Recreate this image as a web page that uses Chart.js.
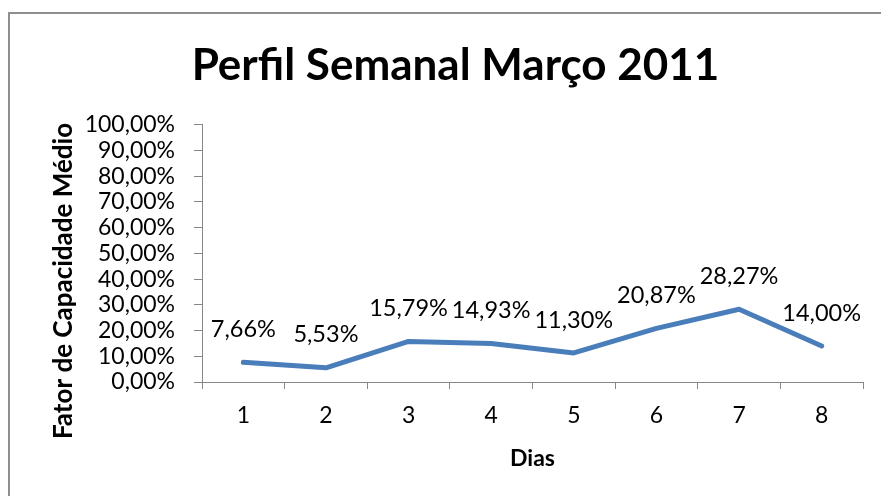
<!DOCTYPE html>
<html>
<head>
<meta charset="utf-8">
<script src="https://cdn.jsdelivr.net/npm/chart.js@4.4.1/dist/chart.umd.min.js"></script>
<style>
    html, body { margin: 0; padding: 0; background: #fff; overflow: hidden; }
    #wrap { position: relative; width: 881px; height: 496px; }
    #frame {
        position: absolute; left: 8px; top: 12px; width: 900px; height: 520px;
        border: 2px solid #8e8e8e; box-sizing: border-box;
    }
    canvas { position: absolute; left: 0; top: 0; }
</style>
</head>
<body>
<div id="wrap">
    <div id="frame"></div>
    <canvas id="chart" width="881" height="496"></canvas>
</div>
<script>
// ===========================
// DATA
// ===========================

const days = ["1", "2", "3", "4", "5", "6", "7", "8"];
const capacityFactor = [7.66, 5.53, 15.79, 14.93, 11.30, 20.87, 28.27, 14.00];

const chartTitle = "Perfil Semanal Março 2011";
const xTitle = "Dias";
const yTitle = "Fator de Capacidade Médio";

// ===========================
// HELPER
// ===========================

function formatPercent(value) {
    return Number(value).toFixed(2).replace(".", ",") + "%";
}

const axisColor = "#868686";
const fontName = "Lato, 'Noto Sans', sans-serif";

// rótulos de dados acima de cada ponto + título do eixo Y
const extraText = {
    id: "extraText",
    afterDatasetsDraw(chart) {
        const ctx = chart.ctx;
        const meta = chart.getDatasetMeta(0);
        ctx.save();
        ctx.font = "23.5px " + fontName;
        ctx.fillStyle = "#000";
        ctx.textAlign = "center";
        ctx.textBaseline = "middle";
        meta.data.forEach((pt, i) => {
            ctx.fillText(formatPercent(capacityFactor[i]), pt.x, pt.y - 33);
        });

        // título vertical, um pouco abaixo do centro (como no Excel)
        const area = chart.chartArea;
        ctx.translate(64, area.bottom - 101);
        ctx.rotate(-Math.PI / 2);
        ctx.font = "bold 26px " + fontName;
        ctx.fillText(yTitle, 0, 0);
        ctx.restore();
    }
};

// ===========================
// CHART
// ===========================

const ctx = document.getElementById("chart").getContext("2d");

new Chart(ctx, {
    type: "line",
    data: {
        labels: days,
        datasets: [{
            data: capacityFactor,
            borderColor: "#4a7ebb",
            borderWidth: 5,
            borderCapStyle: "round",
            borderJoinStyle: "round",
            pointRadius: 0,
            tension: 0,
            fill: false
        }]
    },
    options: {
        responsive: false,
        animation: false,
        layout: {
            padding: { top: 39, left: 48, right: 18, bottom: 24 }
        },
        plugins: {
            legend: { display: false },
            tooltip: { enabled: false },
            title: {
                display: true,
                text: chartTitle,
                color: "#000",
                font: { family: fontName, size: 44, weight: "bold", lineHeight: 1.2 },
                padding: { top: 0, bottom: 33 }
            }
        },
        scales: {
            x: {
                offset: true,
                grid: {
                    offset: true,
                    drawOnChartArea: false,
                    drawTicks: true,
                    tickLength: 7,
                    color: axisColor
                },
                border: { color: axisColor, width: 1 },
                ticks: {
                    color: "#000",
                    padding: 13,
                    font: { family: fontName, size: 23 }
                },
                title: {
                    display: true,
                    text: xTitle,
                    color: "#000",
                    padding: 0,
                    font: { family: fontName, size: 23, weight: "bold", lineHeight: 1.2 }
                },
                afterFit(scale) { scale.height = 90; }
            },
            y: {
                min: 0,
                max: 100,
                grid: {
                    drawOnChartArea: false,
                    drawTicks: true,
                    tickLength: 8,
                    color: axisColor
                },
                border: { color: axisColor, width: 1 },
                ticks: {
                    stepSize: 10,
                    autoSkip: false,
                    color: "#000",
                    padding: 19,
                    font: { family: fontName, size: 23 },
                    callback: v => formatPercent(v)
                },
                afterFit(scale) { scale.width = 154; }
            }
        }
    },
    plugins: [extraText]
});
</script>
</body>
</html>
